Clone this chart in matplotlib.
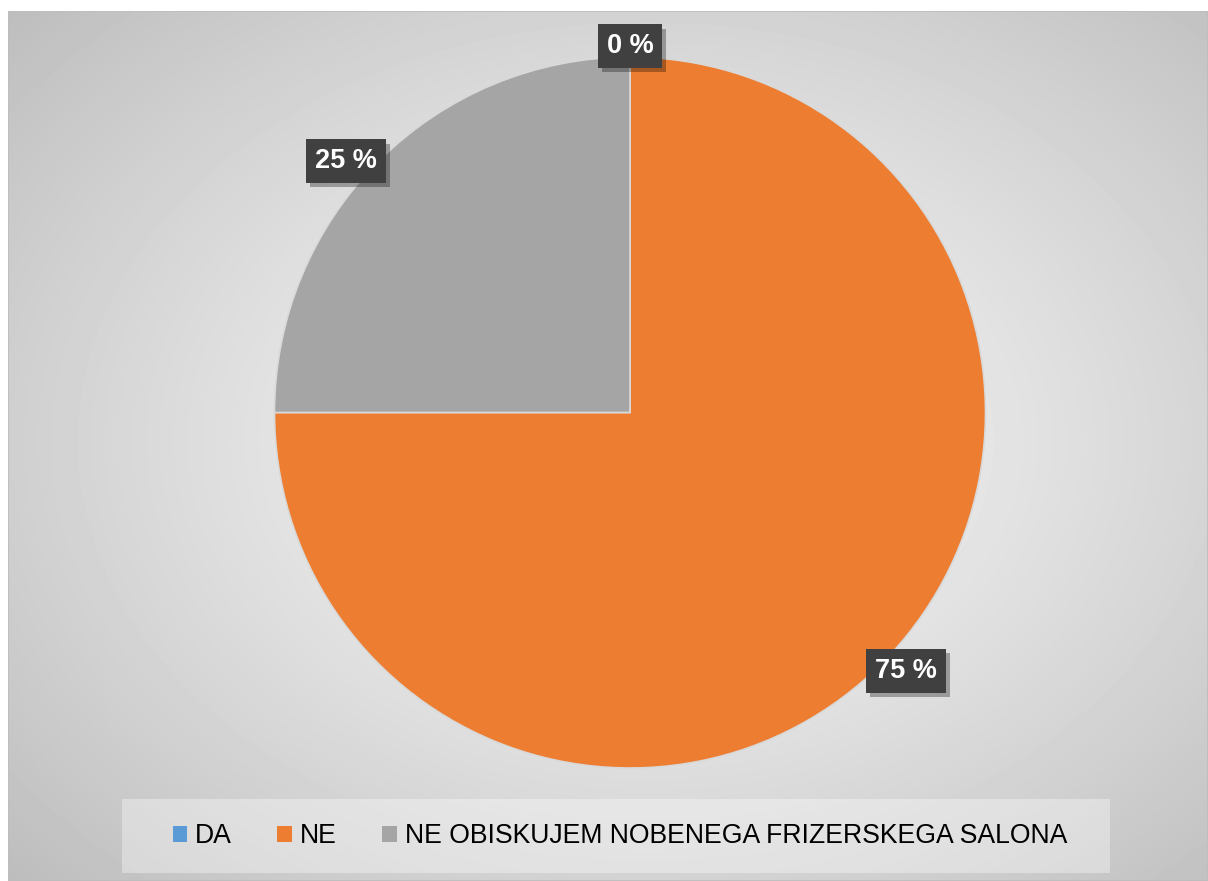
import numpy as np
import matplotlib
matplotlib.use('Agg')
import matplotlib.pyplot as plt
from matplotlib.patches import Rectangle
import matplotlib.patheffects as pe

plt.rcParams['font.family'] = ['Liberation Sans', 'DejaVu Sans']

# data
categories = ['DA', 'NE', 'NE OBISKUJEM NOBENEGA FRIZERSKEGA SALONA']
shares = [0, 75, 25]
colors = ['#5b9bd5', '#ed7d31', '#a5a5a5']

W, H = 1208, 881
fig = plt.figure(figsize=(W / 100, H / 100), dpi=100)
fig.patch.set_facecolor('white')

# background: chart area with radial gradient
bg = fig.add_axes([8 / W, 0, 1 - 8 / W, 1 - 11 / H])
bg.set_axis_off()
yy, xx = np.mgrid[0:870, 0:1200]
cx, cy = 640, 430
d = np.sqrt(((xx - cx) / 640.0) ** 2 + ((yy - cy) / 470.0) ** 2) / np.sqrt(2)
d = np.clip(d, 0, 1)
shade = 0.97 - 0.24 * d ** 1.2
bg.imshow(shade, cmap='gray', vmin=0, vmax=1, aspect='auto', interpolation='bilinear')
bg.add_patch(Rectangle((0, 0), 1, 1, transform=bg.transAxes, fill=False,
                       ec='#bdbdbd', lw=1.2))

# legend box
fig.patches.append(Rectangle((122 / W, (H - 873) / H), (1110 - 122) / W, 74 / H,
                             transform=fig.transFigure, fc='white', alpha=0.35,
                             ec='none', zorder=1))

# pie
cxp, cyp, r = 630, 412.5, 355.5
ax = fig.add_axes([(cxp - r) / W, (H - cyp - r) / H, 2 * r / W, 2 * r / H])
ax.set_axis_off()
wedges, texts = ax.pie(shares, colors=colors, startangle=90, counterclock=False,
                       wedgeprops=dict(edgecolor='#d9d9d9', linewidth=1.2))
ax.set_xlim(-1, 1)
ax.set_ylim(-1, 1)
ax.set_aspect('equal')

# label placement (radius factor, angle shift in degrees)
label_r = [1.03, 1.063, 1.066]
label_shift = [0, 1.9, 3.5]
for w, v, rr, sh in zip(wedges, shares, label_r, label_shift):
    ang = np.deg2rad((w.theta1 + w.theta2) / 2 + sh)
    x, y = rr * np.cos(ang), rr * np.sin(ang)
    t = ax.text(x, y, f'{v} %', ha='center', va='center', fontsize=19.5,
                fontweight='bold', color='white',
                bbox=dict(boxstyle='square,pad=0.33', fc='#404040', ec='none'))
    t.get_bbox_patch().set_path_effects([
        pe.SimplePatchShadow(offset=(3, -3), shadow_rgbFace='black', alpha=0.3),
        pe.Normal()])

# legend
handles = [Rectangle((0, 0), 1, 1, fc=c, ec='none') for c in colors]
fig.legend(handles, categories, loc='center', ncol=3, frameon=False,
           bbox_to_anchor=(620 / W, (H - 836) / H), fontsize=19.2,
           handlelength=0.55, handleheight=0.55, handletextpad=0.3,
           columnspacing=1.7)

fig.savefig('out.png', dpi=100)
